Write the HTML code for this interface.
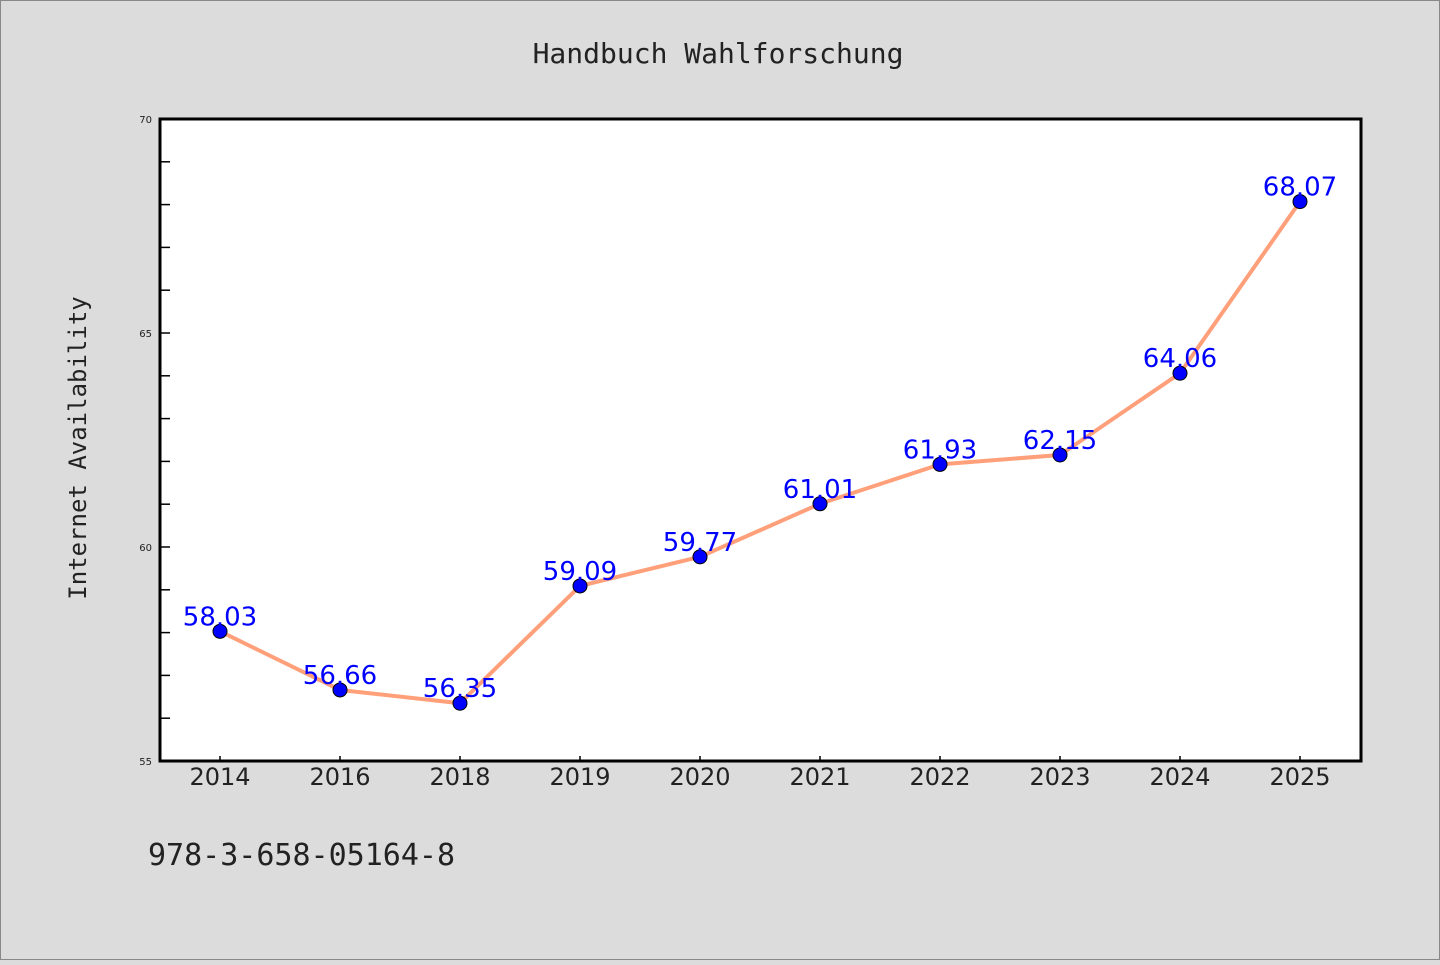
<!DOCTYPE html>
<html><head><meta charset="utf-8"><style>
html,body{margin:0;padding:0;background:#dcdcdc;}
svg text{font-family:"DejaVu Sans","Liberation Sans",sans-serif;}
.mono{font-family:"DejaVu Sans Mono","Liberation Mono",monospace;}
</style></head><body>
<svg id="chart" width="1440" height="960" xmlns="http://www.w3.org/2000/svg">
<rect x="0.5" y="0.5" width="1439" height="959" fill="#dcdcdc" stroke="#888"/>
<text class="mono" x="718" y="63" font-size="28" text-anchor="middle" fill="#222">Handbuch Wahlforschung</text>
<rect x="160" y="119" width="1201" height="642" fill="#fff"/>
<g id="axes"></g>
<g id="marks"></g>
<rect x="160" y="119" width="1201" height="642" fill="none" stroke="#000" stroke-width="3"/>
<text class="mono" transform="translate(86,448) rotate(-90)" font-size="24" text-anchor="middle" fill="#222">Internet Availability</text>
<text class="mono" x="148" y="865" font-size="30" fill="#222">978-3-658-05164-8</text>
</svg>
<script>
const categories = ["2014","2016","2018","2019","2020","2021","2022","2023","2024","2025"];
const values = [58.03,56.66,56.35,59.09,59.77,61.01,61.93,62.15,64.06,68.07];
const labels = ["58.03","56.66","56.35","59.09","59.77","61.01","61.93","62.15","64.06","68.07"];
const yTicks = [55,60,65,70];
const yMin=55,yMax=70,yTop=119,yBottom=761,xLeft=160;
const ns="http://www.w3.org/2000/svg";
function y(v){return yBottom-(v-yMin)/(yMax-yMin)*(yBottom-yTop);}
function x(i){return 220+i*120;}
function mk(t,a,p){const e=document.createElementNS(ns,t);for(const k in a)e.setAttribute(k,a[k]);p.appendChild(e);return e;}
const axes=document.getElementById('axes'),marks=document.getElementById('marks');
for(let v=yMin;v<=yMax;v++){
  const major=yTicks.includes(v);
  const l=mk('line',{x1:xLeft,x2:xLeft+10,y1:y(v),y2:y(v),stroke:'#000','stroke-width':1.5},axes);
  
  
  if(major){
    const t=mk('text',{x:xLeft-8,y:y(v)+4,'font-size':10,'text-anchor':'end',fill:'#222'},axes);
    t.textContent=v;
    
    
  }
}
categories.forEach((c,i)=>{
  const l=mk('line',{x1:x(i),x2:x(i),y1:yBottom,y2:yBottom-5,stroke:'#000','stroke-width':1.5},axes);
  
  
  const t=mk('text',{x:x(i),y:yBottom+24,'font-size':24,'text-anchor':'middle',fill:'#222'},axes);
  t.textContent=c;
  
  
});
const pl=mk('polyline',{points:values.map((v,i)=>x(i)+','+y(v)).join(' '),fill:'none',stroke:'#ffa07a','stroke-width':4,'stroke-linejoin':'round'},marks);


values.forEach((v,i)=>{
  const c=mk('circle',{cx:x(i),cy:y(v),r:7,fill:'#0000ff',stroke:'#000','stroke-width':1},marks);
  
  
  const t=mk('text',{x:x(i),y:y(v)-6,'font-size':26,'text-anchor':'middle',fill:'#0000ff'},marks);
  t.textContent=labels[i];
  
  
});
</script>
</body></html>
